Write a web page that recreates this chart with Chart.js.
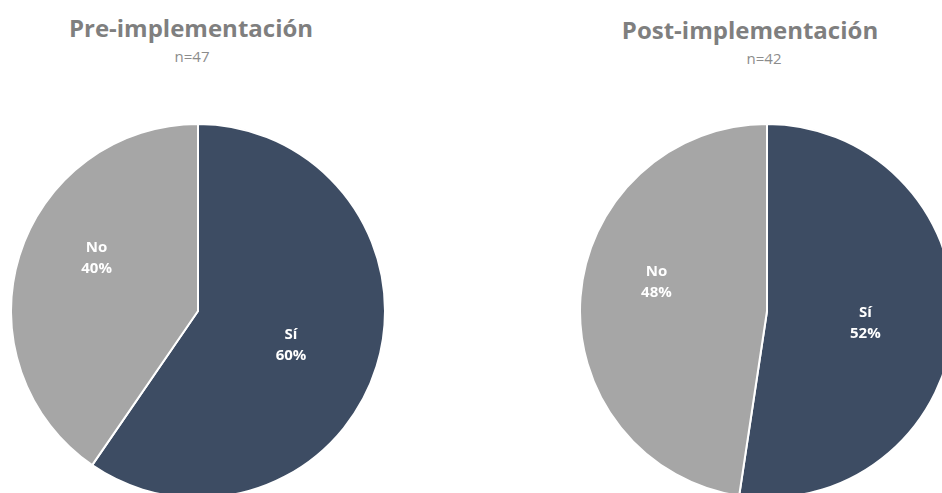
<!DOCTYPE html>
<html>
<head>
<meta charset="utf-8">
<script src="https://cdn.jsdelivr.net/npm/chart.js@4"></script>
<style>
  html, body { margin: 0; padding: 0; background: #fff; }
  body { width: 942px; height: 493px; overflow: hidden; position: relative; font-family: "Open Sans", sans-serif; }
  .title { position: absolute; font-weight: 700; font-size: 24px; color: #7f7f7f; white-space: nowrap; transform: translateX(-50%); }
  .sub { position: absolute; font-size: 15px; color: #8c8c8c; white-space: nowrap; transform: translateX(-50%); }
  .pie { position: absolute; width: 376px; height: 376px; }
</style>
</head>
<body>
<div class="title" id="t1" style="left:191px; top:11px;"></div>
<div class="sub" id="s1" style="left:192px; top:46px;"></div>
<div class="title" id="t2" style="left:750px; top:13px;"></div>
<div class="sub" id="s2" style="left:764px; top:48px;"></div>
<div class="pie" style="left:10px; top:123px;"><canvas id="pre" width="376" height="376"></canvas></div>
<div class="pie" style="left:579px; top:123px;"><canvas id="post" width="376" height="376"></canvas></div>
<script>
const categories = ['Sí', 'No'];
const preCounts = [28, 19];   // n=47
const postCounts = [22, 20];  // n=42
const titles = ['Pre-implementación', 'Post-implementación'];
const subtitles = ['n=47', 'n=42'];
const colors = ['#3d4c63', '#a6a6a6'];

document.getElementById('t1').textContent = titles[0];
document.getElementById('s1').textContent = subtitles[0];
document.getElementById('t2').textContent = titles[1];
document.getElementById('s2').textContent = subtitles[1];

// label placement per slice: fraction of radius, angle shift in degrees
const labelRadius = [0.53, 0.61];
const labelShift = [3, 10];

const sliceLabels = {
  id: 'sliceLabels',
  afterDatasetsDraw(chart) {
    const ctx = chart.ctx;
    const meta = chart.getDatasetMeta(0);
    const data = chart.data.datasets[0].data;
    const total = data.reduce((a, b) => a + b, 0);
    ctx.save();
    ctx.fillStyle = '#ffffff';
    ctx.font = 'bold 15px "Open Sans", sans-serif';
    ctx.textAlign = 'center';
    ctx.textBaseline = 'middle';
    meta.data.forEach((arc, i) => {
      const p = arc.getProps(['x', 'y', 'startAngle', 'endAngle', 'outerRadius'], true);
      const a = (p.startAngle + p.endAngle) / 2 + labelShift[i] * Math.PI / 180;
      const r = p.outerRadius * labelRadius[i];
      const x = p.x + Math.cos(a) * r;
      const y = p.y + Math.sin(a) * r;
      const pct = Math.round(data[i] / total * 100) + '%';
      ctx.fillText(chart.data.labels[i], x, y - 11);
      ctx.fillText(pct, x, y + 10);
    });
    ctx.restore();
  }
};

function makePie(id, values) {
  new Chart(document.getElementById(id), {
    type: 'pie',
    data: {
      labels: categories,
      datasets: [{
        data: values,
        backgroundColor: colors,
        borderColor: '#ffffff',
        borderWidth: 2
      }]
    },
    options: {
      responsive: false,
      animation: false,
      layout: { padding: 0 },
      plugins: {
        legend: { display: false },
        tooltip: { enabled: false }
      }
    },
    plugins: [sliceLabels]
  });
}

makePie('pre', preCounts);
makePie('post', postCounts);
</script>
</body>
</html>
